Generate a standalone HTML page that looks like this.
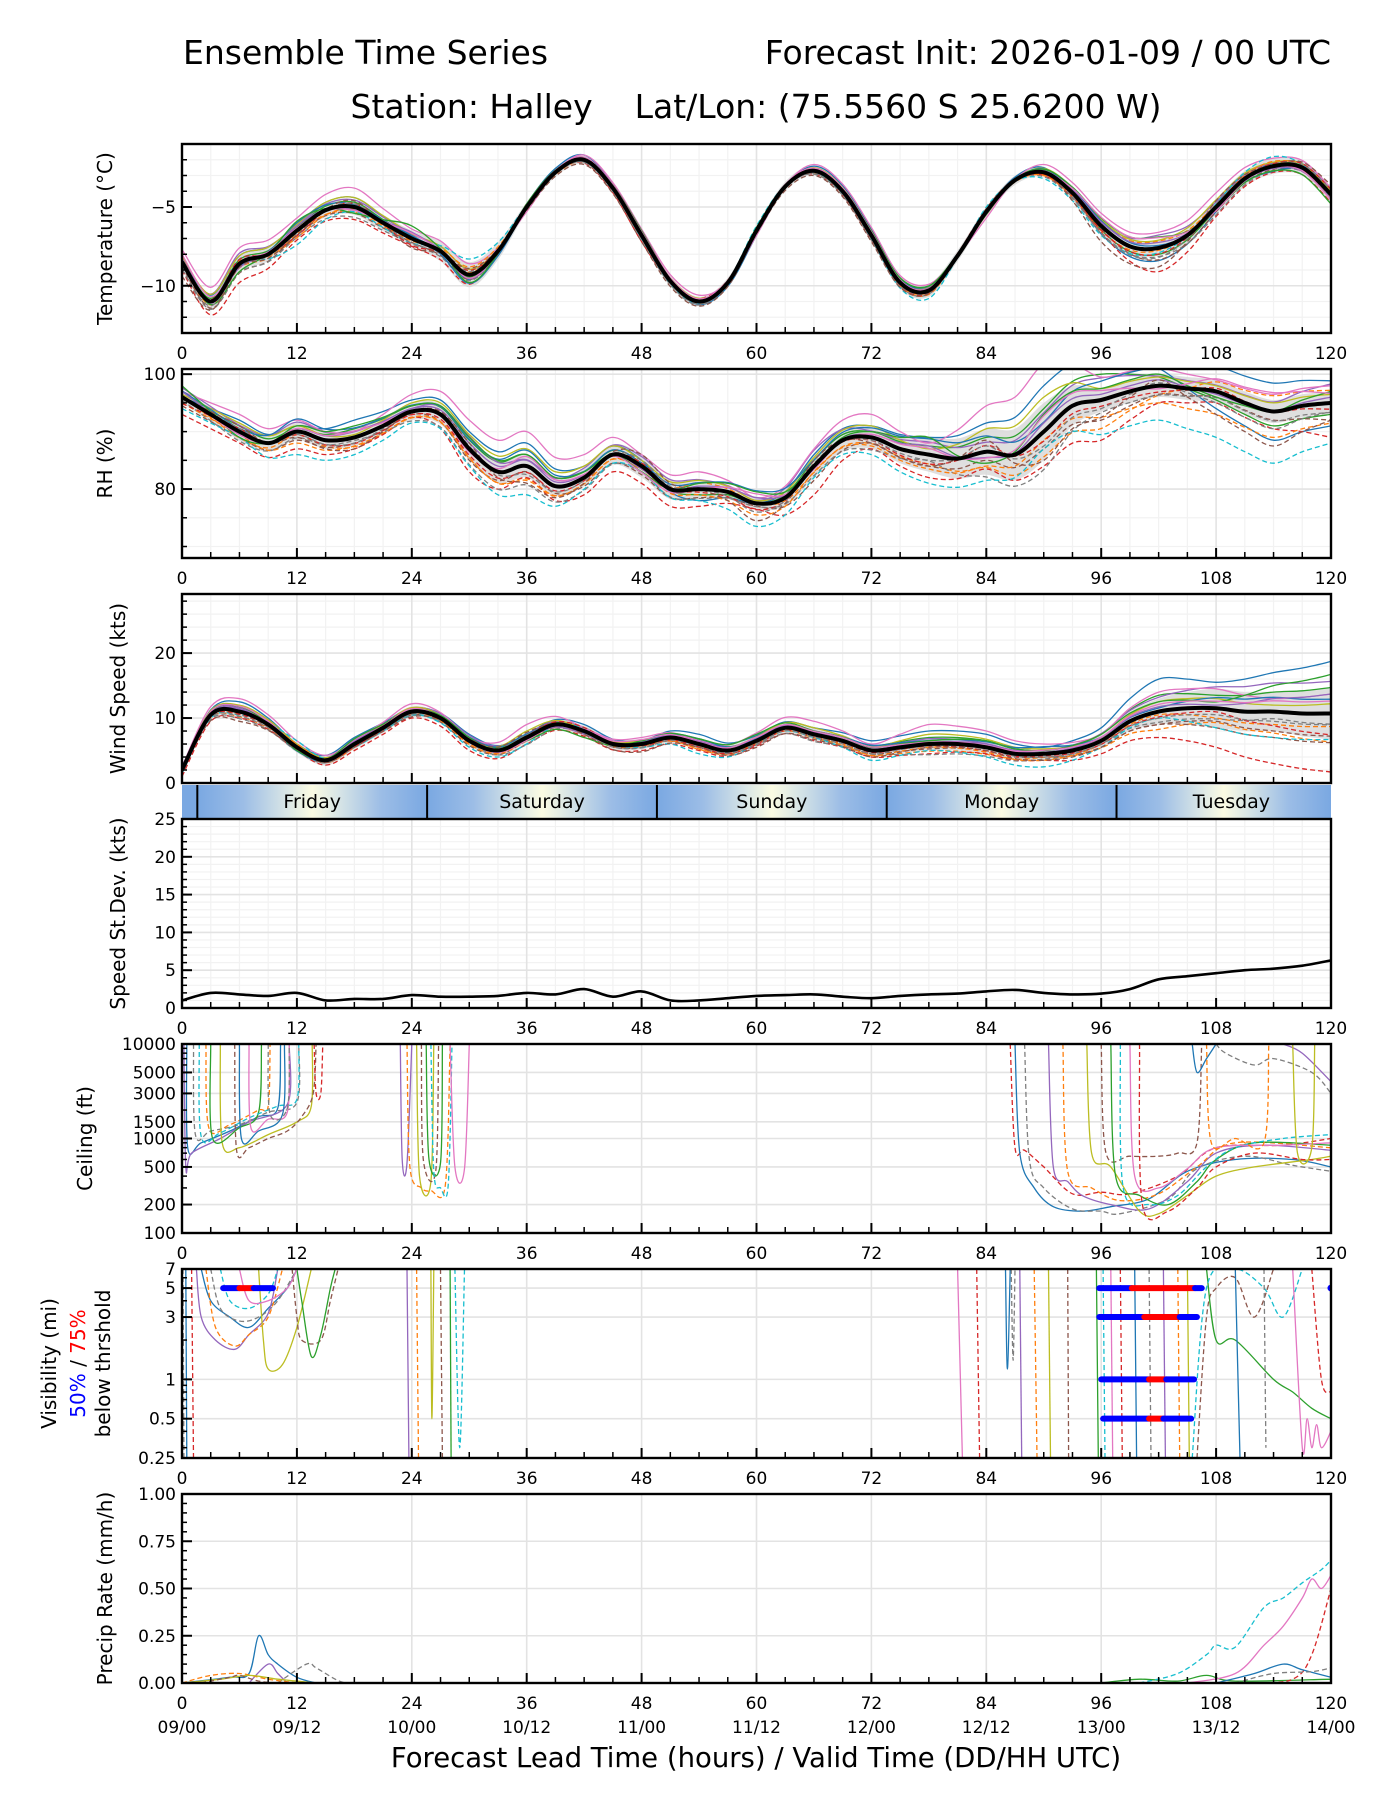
<!DOCTYPE html>
<html><head><meta charset="utf-8"><title>Ensemble Time Series - Halley</title>
<style>
html,body{margin:0;padding:0;background:#fff;}
svg{display:block;font-family:"DejaVu Sans","Liberation Sans",sans-serif;}
</style></head>
<body>
<svg id="chart" width="1400" height="1800" viewBox="0 0 1400 1800" xmlns="http://www.w3.org/2000/svg">
<defs>
<linearGradient id="daygrad" x1="0" x2="1" y1="0" y2="0">
<stop offset="0" stop-color="#7aa8e2"/><stop offset="0.2" stop-color="#9cbde6"/><stop offset="0.38" stop-color="#d6e4e6"/><stop offset="0.5" stop-color="#fbfbe2"/><stop offset="0.62" stop-color="#d6e4e6"/><stop offset="0.8" stop-color="#9cbde6"/><stop offset="1" stop-color="#7aa8e2"/>
</linearGradient>
</defs>
<text x="183" y="64" font-size="33" fill="#000">Ensemble Time Series</text>
<text x="1331" y="64" font-size="33" text-anchor="end" fill="#000">Forecast Init: 2026-01-09 / 00 UTC</text>
<text x="756" y="118" font-size="33" text-anchor="middle" fill="#000" xml:space="preserve">Station: Halley    Lat/Lon: (75.5560 S 25.6200 W)</text>
<text x="756" y="1767" font-size="27.5" text-anchor="middle" fill="#000">Forecast Lead Time (hours) / Valid Time (DD/HH UTC)</text>
<g id="plots"></g>
</svg>
<script>
// ---------- DATA ----------
const hours3 = [0,3,6,9,12,15,18,21,24,27,30,33,36,39,42,45,48,51,54,57,60,63,66,69,72,75,78,81,84,87,90,93,96,99,102,105,108,111,114,117,120];
const hours6 = [0,6,12,18,24,30,36,42,48,54,60,66,72,78,84,90,96,102,108,114,120];
const tempMean = [-8.5,-11.0,-8.6,-8.0,-6.5,-5.2,-5.0,-6.0,-7.0,-7.8,-9.3,-7.8,-5.0,-2.8,-2.0,-3.8,-6.8,-9.7,-11.0,-9.8,-6.5,-3.7,-2.7,-4.0,-6.8,-9.8,-10.3,-8.1,-5.3,-3.3,-2.8,-4.1,-6.2,-7.5,-7.6,-6.8,-5.0,-3.2,-2.4,-2.5,-4.2];
const rhMean = [96,93,90,88,90,88.5,89,91,93.5,93,87,83,84,80.5,82,86,84,80,80,79.5,77.5,78.5,84,88.5,89,87,86,85.3,86.5,86,90,94.5,95.5,97,98,97.5,97,95,93.5,94.5,95];
const windMean = [2,10.5,11,9,5.5,3.5,6,8.5,11,10,6.5,5,7,9,8,6,6,7,6,5,6.5,8.5,7.5,6.5,5,5.5,6,6,5.5,4.5,4.5,5,6.5,9.5,11,11.5,11.5,11,11,10.7,10.7];
const speedStd = [1.0,2.0,1.8,1.6,2.0,1.0,1.2,1.2,1.7,1.5,1.5,1.6,2.0,1.8,2.5,1.5,2.2,1.0,1.0,1.3,1.6,1.7,1.8,1.5,1.3,1.6,1.8,1.9,2.2,2.4,2.0,1.8,1.9,2.5,3.8,4.2,4.6,5.0,5.2,5.6,6.3];
const tempBand = [0.5,0.5,0.4,0.5,0.5,0.8,0.3,0.3,0.4,0.3,0.3,0.3,0.4,0.4,0.3,0.3,0.6,0.5,0.5,0.5,0.5];
const rhBand = [1,1.5,1.5,1.5,1.5,2,2,1.5,2,1.5,1,2,2,3,4,5,2,2,2,2,2];
const windBand = [0.5,1,0.8,0.8,0.8,0.8,0.8,0.8,0.8,0.8,0.8,1,0.8,1,1,1,1,2,3,3,4];
const tempDev1 = [0.3,0.5,0.4,0.6,0.2,-0.3,0.2,0.3,0.1,-0.2,-0.3,0.3,0.4,0.2,0.1,0.3,-0.5,-0.8,-0.3,0.2,0.3];
const tempDev2 = [-0.5,-1.2,-0.6,-0.8,-0.5,-0.6,0.2,-0.2,-0.4,0.2,0.1,-0.2,-0.3,0.1,0.2,-0.2,-0.4,-1.5,-0.6,-0.4,-0.5];
const tempDev3 = [0.8,1.0,0.8,1.2,0.6,0.7,-0.3,0.3,0.4,0.4,-0.3,0.4,0.5,0.4,-0.4,0.5,0.8,1.0,0.9,0.5,0.4];
const tempDev4 = [-0.2,0.3,-0.9,-0.3,-0.3,1.0,0.1,-0.1,-0.2,-0.1,0.3,-0.1,-0.2,-0.5,0.3,-0.4,-0.6,-0.3,0.2,0.6,-0.2];
const tempDev5 = [0.1,-0.5,0.6,-0.4,0.8,-0.5,0.2,0.1,0.3,0.0,0.2,0.0,0.3,0.3,-0.1,0.2,0.5,0.7,-0.2,-0.3,-0.6];
const tempDev6 = [-0.9,-0.2,-0.3,0.4,-0.6,0.4,-0.2,-0.3,-0.4,-0.3,-0.2,-0.3,-0.4,-0.2,0.2,0.0,-1.0,-1.2,0.4,0.1,0.6];
const rhDev1 = [0,2,1,3,2,3,4,2,1,-2,0,2,2,3,5,8,9,3,-3,-5,-4];
const rhDev2 = [-3,-2,-3,-2,-1,-4,-2,-3,-3,-3,-1,-5,-2,-4,-3,-6,-7,-3,-2,-3,-6];
const rhDev3 = [1,3,2,1,3,5,6,4,2,3,1,3,4,2,8,12,4,3,2,3,3];
const rhDev4 = [-2,-1,-4,-3,-2,-3,-5,-2,-1,-2,-4,-2,-3,-5,-5,-3,-6,-6,-8,-9,-7];
const rhDev5 = [2,-1,1,2,1,2,2,1,-1,1,2,0,1,3,-2,3,2,2,-1,0,2];
const rhDev6 = [0,1,-1,-2,0,1,-3,-1,2,0,-3,1,-1,-2,2,-5,-3,1,-4,-6,-3];
const windDev1 = [0,1.5,0.5,1,0.5,1,0.5,1,0.5,1.5,0.8,1,1.5,2,2,1,2,5,4,6,8];
const windDev2 = [-1,-1,-0.5,-1,-1,-1.5,-1,-0.8,-1,-1,-0.8,-1,-1,-1.5,-1,-1,-2,-4,-6,-8,-9];
const windDev3 = [0.5,2,1,0.5,1.2,0.5,2,0.5,1,0.5,1.2,2,1,3,2.5,1.5,1,3,3,2,3];
const windDev4 = [-0.5,-0.5,1,-0.5,-0.5,-1,-1,0.5,-0.5,-1.5,-0.5,-0.5,-1.5,-1,-1.5,-2,-1,-1,-3,-4,-4];
const windDev5 = [0.2,0.8,-0.5,0.8,0.3,0.5,-0.5,-1,0.5,0.8,1,0.5,0.5,0.5,1,0.5,1,1.5,1,4,6];
const windDev6 = [-0.3,-1.5,-0.3,-0.3,-0.8,0.3,0.8,-0.5,-1.2,-0.5,-1,-0.8,-1,-0.5,-0.5,-1,-1,-2,-2,-3,-3.5];
const ceilMembers = [
 [[0.5,10000],[0.6,800],[2,900],[5,1200],[8,1700],[10,2100],[10.3,10000]],
 [[1.2,10000],[1.4,1100],[3,1200],[6,1400],[9,1900],[12,2400],[12.2,10000]],
 [[0.2,10000],[0.4,500],[1,700],[4,1000],[7,1500],[11,2300],[11.2,10000]],
 [[2.5,10000],[2.8,1300],[5,1400],[8,2000],[9,2200],[9.2,10000]],
 [[4,10000],[4.2,900],[6,800],[9,1100],[12,1500],[13.5,2200],[13.6,10000]],
 [[5.5,10000],[5.7,750],[7,800],[9,1000],[11,1200],[12.5,1700],[13.7,3000],[14,10000]],
 [[3,10000],[3.2,1000],[6,1300],[8,1900],[8.3,10000]],
 [[1.8,10000],[2,1050],[4,1150],[7,1650],[10,2200],[12,2600],[12.2,10000]],
 [[7,10000],[7.2,1300],[9,1600],[11,1900],[11.2,10000]],
 [[13.8,10000],[14,3000],[14.5,3000],[14.7,10000]],
 [[6,10000],[6.2,1000],[8,1200],[10.5,1800],[10.7,10000]],
 [[9,10000],[9.2,1800],[11,2100],[11.2,10000]],
 [[22.8,10000],[23,600],[23.5,550],[24,10000]],
 [[23.5,10000],[23.8,500],[25,300],[26,280],[27.5,320],[28,10000]],
 [[24.5,10000],[24.8,400],[26,350],[26.3,10000]],
 [[25,10000],[25.2,600],[26.5,450],[26.8,10000]],
 [[25.5,10000],[25.8,600],[27,550],[27.2,10000]],
 [[26,10000],[26.3,450],[27,300],[27.8,320],[28.2,10000]],
 [[28,10000],[28.5,500],[29.5,480],[30,10000]],
 [[86.5,10000],[87,800],[88,750],[90,500],[93,260],[96,270],[99,260],[104,400],[108,800],[115,850],[120,1000]],
 [[87,10000],[87.5,700],[89,300],[91,190],[94,170],[97,190],[101,230],[105,450],[110,600],[116,600],[120,500]],
 [[88,10000],[88.5,600],[90,300],[93,180],[96,170],[98,160],[103,230],[106,480],[111,650],[116,520],[120,450]],
 [[90.5,10000],[91,500],[92.5,350],[94,250],[97,200],[101,180],[105,350],[108,700],[113,850],[120,750]],
 [[92,10000],[92.5,450],[95,300],[98,220],[102,260],[106,500],[110,900],[120,800]],
 [[94.5,10000],[95,700],[97,500],[100,170],[102,160],[105,250],[108,400],[112,500],[118,600],[120,650]],
 [[96,10000],[96.5,700],[99,650],[102,650],[104,700],[106,900],[106.5,10000]],
 [[97,10000],[97.5,400],[100,250],[103,200],[106,350],[108,600],[112,900],[120,850]],
 [[98,10000],[98.3,300],[101,200],[104,250],[107,500],[110,800],[115,1000],[120,1100]],
 [[99,10000],[99.5,400],[102,300],[105,480],[108,800],[115,850],[120,900]],
 [[100,10000],[100.3,200],[103,170],[106,300],[108,500],[112,700],[117,600],[120,600]],
 [[105.5,10000],[106,5000],[107,7000],[108,10000]],
 [[108,10000],[109,8000],[112,6000],[114,7000],[118,5000],[120,3000]],
 [[115,10000],[117,8000],[120,4000]],
 [[107,10000],[107.5,900],[110,1000],[113,900],[113.5,10000]],
 [[116,10000],[116.5,700],[118,800],[118.3,10000]]
];
const visMembers = [
 [[2,7],[3,4],[5,3],[7,2.5],[9,3.5],[11,5],[12,7]],
 [[3,7],[4,3.5],[6,2.8],[8,3],[10,4],[12,7]],
 [[1.5,7],[2,3],[3.5,2],[5.5,1.7],[7,2.2],[9,3.2],[10,7]],
 [[2.5,7],[3.5,2.5],[5.5,1.8],[7,2.2],[9,3],[10.5,7]],
 [[8,7],[8.5,2],[9,1.2],[10.5,1.3],[12,2.5],[13.5,7]],
 [[11.5,7],[12,3],[12.5,2],[14.5,2],[15.5,4],[16.3,7]],
 [[12,7],[12.5,4],[13.5,1.5],[14.5,2.2],[15.5,5],[16,7]],
 [[4,7],[5,4],[7,3.5],[9,4.5],[10,7]],
 [[6,7],[7,4],[9,4],[11,5],[12,7]],
 [[1,7],[1.2,0.25]],
 [[0.4,7],[0.5,0.25]],
 [[0.1,7],[0.2,0.25]],
 [[23.5,7],[23.7,0.25]],[[24.5,7],[24.7,0.25]],[[26,7],[26.1,0.5],[26.3,7]],
 [[27,7],[27.2,0.25]],[[28,7],[28.1,0.25]],[[28.5,7],[29,0.3],[29.5,7]],
 [[81,7],[81.5,0.25]],[[83,7],[83.3,0.25]],[[86,7],[86.2,1.2],[86.5,7]],[[86.6,7],[86.8,1.4],[87,7]],
 [[87.5,7],[87.7,0.25]],[[89,7],[89.3,0.25]],[[90.5,7],[90.7,0.25]],[[92.5,7],[92.6,0.25]],
 [[95.5,7],[95.7,0.25]],[[96.2,7],[96.4,0.25]],[[97,7],[97.2,0.25]],[[98,7],[98.2,0.25]],
 [[99.5,7],[99.7,0.25]],[[101,7],[101.2,0.25]],[[102.5,7],[102.7,0.25]],[[104,7],[104.2,0.25]],
 [[105,7],[105.2,0.25]],[[106,0.25],[107,3],[108,5],[110,6],[112,3],[114,7]],
 [[107,7],[108,2],[110,2],[114,1],[116,0.8],[118,0.6],[120,0.5]],
 [[105.5,0.25],[107,5],[110,7],[113,5],[115,3],[117,7]],
 [[116,7],[117,0.3],[117.5,0.5],[118,0.3],[118.5,0.45],[119,0.3],[120,0.4]],
 [[118,7],[119,1],[120,0.8]],[[110,7],[110.5,0.25]],[[113,7],[113.2,0.3]]
];
const visBarLevels = [5,5,5,5,5,5,3,3,3,1,1,1,0.5,0.5,0.5];
const visBarStart  = [4.3,6,7.5,95.8,99.2,105.8,95.8,100.5,104.2,96,101,102.8,96.2,101,102.5];
const visBarEnd    = [6,7.5,9.5,99.2,105.8,106.5,100.5,104.2,106,101,102.8,105.7,101,102.5,105.4];
const visBarColor  = ['blue','red','blue','blue','red','blue','blue','red','blue','blue','red','blue','blue','red','blue'];
const precipMembers = [
 [[0,0],[5,0.03],[7,0.05],[8,0.25],[9,0.15],[10,0.1],[12,0.03],[14,0]],
 [[10,0],[13,0.1],[14,0.08],[16,0.02],[17,0]],
 [[7,0],[9,0.1],[10,0.05],[11,0]],
 [[0,0],[3,0.04],[6,0.05],[9,0.02],[12,0]],
 [[0,0],[4,0.02],[7,0.04],[10,0.02],[14,0]],
 [[2,0],[5,0.03],[6,0.04],[8,0.01],[10,0]],
 [[96,0],[100,0.02],[104,0.01],[107,0.04],[110,0.01],[120,0.02]],
 [[100,0],[104,0.05],[107,0.15],[108,0.2],[110,0.19],[113,0.4],[115,0.45],[117,0.53],[119,0.6],[120,0.65]],
 [[105,0],[110,0.05],[113,0.2],[115,0.3],[117,0.45],[118,0.55],[119,0.5],[120,0.57]],
 [[112,0],[116,0.02],[118,0.15],[120,0.5]],
 [[108,0],[112,0.05],[115,0.1],[117,0.07],[120,0.03]],
 [[110,0],[114,0.05],[118,0.06],[120,0.08]]
];
const dayNames = ['Friday','Saturday','Sunday','Monday','Tuesday'];
const dayStarts = [1.6,25.6,49.6,73.6,97.6];
const xTickLabels = ['0','12','24','36','48','60','72','84','96','108','120'];
const dateLabels = ['09/00','09/12','10/00','10/12','11/00','11/12','12/00','12/12','13/00','13/12','14/00'];

// ---------- HELPERS ----------
const NS = 'http://www.w3.org/2000/svg';
const root = document.getElementById('plots');
const X0 = 182, X1 = 1331;
const colors = ['#1f77b4','#ff7f0e','#2ca02c','#d62728','#9467bd','#8c564b','#e377c2','#7f7f7f','#bcbd22','#17becf'];
function xs(h){ return X0 + h*(X1-X0)/120; }
function mk(tag, attrs, parent){ const e=document.createElementNS(NS,tag); for(const k in attrs) e.setAttribute(k,attrs[k]); parent.appendChild(e); return e; }
function linScale(top,bot,mn,mx){ return v => bot - (v-mn)/(mx-mn)*(bot-top); }
function logScale(top,bot,mn,mx){ return v => bot - (Math.log(v)-Math.log(mn))/(Math.log(mx)-Math.log(mn))*(bot-top); }
function smoothPath(pts){
  if(pts.length<2) return '';
  let d='M'+pts[0][0].toFixed(1)+','+pts[0][1].toFixed(1);
  for(let i=0;i<pts.length-1;i++){
    const p0=pts[Math.max(0,i-1)],p1=pts[i],p2=pts[i+1],p3=pts[Math.min(pts.length-1,i+2)];
    const c1x=p1[0]+(p2[0]-p0[0])/6,c1y=p1[1]+(p2[1]-p0[1])/6,c2x=p2[0]-(p3[0]-p1[0])/6,c2y=p2[1]-(p3[1]-p1[1])/6;
    d+=' C'+c1x.toFixed(1)+','+c1y.toFixed(1)+' '+c2x.toFixed(1)+','+c2y.toFixed(1)+' '+p2[0].toFixed(1)+','+p2[1].toFixed(1);
  }
  return d;
}
function interp(xsArr, ysArr, x){
  for(let i=0;i<xsArr.length-1;i++){ if(x<=xsArr[i+1]){ const t=(x-xsArr[i])/(xsArr[i+1]-xsArr[i]); return ysArr[i]+t*(ysArr[i+1]-ysArr[i]); } }
  return ysArr[ysArr.length-1];
}
function clampPts(pts, top, bot){ return pts.map(p=>[p[0],Math.max(top,Math.min(bot,p[1]))]); }

function axes(name, top, bot, ys, yticks, ylabels, minorY, minorGrid, showDates, showXLabels){
  const g = mk('g',{},root);
  
  
  if(minorGrid){
    minorY.forEach(v=>{ const l=mk('line',{x1:X0,x2:X1,y1:ys(v),y2:ys(v),stroke:'#f2f2f2','stroke-width':1.2},g);
      
       });
    for(let h=3;h<120;h+=3){ if(h%12===0) continue; const l=mk('line',{x1:xs(h),x2:xs(h),y1:top,y2:bot,stroke:'#f2f2f2','stroke-width':1.2},g);
      
       }
  }
  for(let h=12;h<120;h+=12){ const l=mk('line',{x1:xs(h),x2:xs(h),y1:top,y2:bot,stroke:'#e3e3e3','stroke-width':1.6},g);
    
     }
  yticks.forEach(v=>{ const l=mk('line',{x1:X0,x2:X1,y1:ys(v),y2:ys(v),stroke:'#e3e3e3','stroke-width':1.6},g);
    
     });
  const data = mk('g',{},root);
  
  
  const fg = mk('g',{},root);
  
  
  const cid='clip-'+name;
  const cp=mk('clipPath',{id:cid},fg);
  mk('rect',{x:X0,y:top,width:X1-X0,height:bot-top},cp);
  data.setAttribute('clip-path','url(#'+cid+')');
  const fr=mk('rect',{x:X0,y:top,width:X1-X0,height:bot-top,fill:'none',stroke:'#000','stroke-width':2.4},fg);
  
  
  for(let h=0;h<=120;h+=3){ const maj=h%12===0; const t=mk('line',{x1:xs(h),x2:xs(h),y1:bot,y2:bot-(maj?10:6),stroke:'#000','stroke-width':maj?2:1.5},fg);
    
     }
  if(showXLabels){ xTickLabels.forEach((s,i)=>{ const t=mk('text',{x:xs(i*12),y:bot+26,'text-anchor':'middle','font-size':17},fg); t.textContent=s;
    
     }); }
  if(showDates){ dateLabels.forEach((s,i)=>{ const t=mk('text',{x:xs(i*12),y:bot+50,'text-anchor':'middle','font-size':17},fg); t.textContent=s;
    
     }); }
  minorY.forEach(v=>{ const t=mk('line',{x1:X0,x2:X0+5,y1:ys(v),y2:ys(v),stroke:'#000','stroke-width':1.5},fg);
    
     });
  yticks.forEach((v,i)=>{ const t=mk('line',{x1:X0,x2:X0+10,y1:ys(v),y2:ys(v),stroke:'#000','stroke-width':2},fg);
    
    
    const tl=mk('text',{x:X0-6,y:ys(v)+6,'text-anchor':'end','font-size':17},fg); tl.textContent=ylabels[i];
    
     });
  return data;
}
function yTitle(name, lines, top, bot, xpos){
  const cy=(top+bot)/2;
  lines.forEach((ln,i)=>{
    const t=mk('text',{x:xpos[i],y:cy,'text-anchor':'middle','font-size':20,transform:'rotate(-90 '+xpos[i]+' '+cy+')'},root);
    ln.forEach(seg=>{ const s=mk('tspan',{fill:seg[1]},t); s.textContent=seg[0]; });
    
    
  });
}
function drawEnsemble(g, name, mean, band, devs, ys, top, bot){
  const up=[],lo=[];
  hours3.forEach((h,i)=>{ const b=interp(hours6,band,h); up.push([xs(h),ys(mean[i]+b)]); lo.push([xs(h),ys(mean[i]-b)]); });
  const bp=mk('path',{d:smoothPath(up)+' L'+lo[lo.length-1][0]+','+lo[lo.length-1][1]+smoothPath(lo.slice().reverse()).replace(/^M[^ ]+/,'')+' Z',fill:'#d9d9d9',opacity:0.85},g);
  
  
  devs.forEach((dv,k)=>{
    [1,-0.55,0.5].forEach((sgn,j)=>{
      const pts=hours3.map((h,i)=>[xs(h), ys(mean[i]+sgn*interp(hours6,dv,h))]);
      const ci=(k*3+j)%10;
      const p=mk('path',{d:smoothPath(clampPts(pts,top-5,bot+5)),fill:'none',stroke:colors[ci],'stroke-width':1.3,'stroke-dasharray':(k+j)%2?'5,3':'none'},g);
      
      
    });
  });
  const m=mk('path',{d:smoothPath(hours3.map((h,i)=>[xs(h),ys(mean[i])])),fill:'none',stroke:'#000','stroke-width':4,'stroke-linejoin':'round'},g);
  
  
}
function drawMembers(g, name, members, ys, top, bot){
  members.forEach((mem,k)=>{
    const pts=mem.map(p=>[xs(p[0]),ys(p[1])]);
    const p=mk('path',{d:smoothPath(clampPts(pts,top-3,bot+3)),fill:'none',stroke:colors[(k*7)%10],'stroke-width':1.3,'stroke-dasharray':k%2?'5,3':'none'},g);
    
    
  });
}
function range(a,b,s){ const r=[]; for(let v=a;v<=b+1e-9;v+=s) r.push(+v.toFixed(4)); return r; }

// ---------- TEMPERATURE ----------
{
  const top=144,bot=333, ys=linScale(top,bot,-13,-1);
  const g=axes('temperature',top,bot,ys,[-10,-5],['\u221210','\u22125'],range(-12,-2,1),true,false,true);
  drawEnsemble(g,'temperature',tempMean,tempBand,[tempDev1,tempDev2,tempDev3,tempDev4,tempDev5,tempDev6],ys,top,bot);
  yTitle('temperature',[[['Temperature (\u00b0C)','#000']]],top,bot,[112]);
}
// ---------- RH ----------
{
  const top=369,bot=558, ys=linScale(top,bot,68,100.9);
  const g=axes('rh',top,bot,ys,[80,100],['80','100'],range(70,95,5),true,false,true);
  drawEnsemble(g,'rh',rhMean,rhBand,[rhDev1,rhDev2,rhDev3,rhDev4,rhDev5,rhDev6],ys,top,bot);
  yTitle('rh',[[['RH (%)','#000']]],top,bot,[112]);
}
// ---------- WIND ----------
{
  const top=594,bot=783, ys=linScale(top,bot,0,29.1);
  const g=axes('wind-speed',top,bot,ys,[0,10,20],['0','10','20'],range(2,28,2),true,false,false);
  drawEnsemble(g,'wind-speed',windMean,windBand,[windDev1,windDev2,windDev3,windDev4,windDev5,windDev6],ys,top,bot);
  yTitle('wind-speed',[[['Wind Speed (kts)','#000']]],top,bot,[125]);
}
// ---------- DAY BAR ----------
{
  const top=785,bot=818;
  const g=mk('g',{},root);
  
  
  const r0=mk('rect',{x:X0,y:top,width:xs(dayStarts[0])-X0,height:bot-top,fill:'#7aa8e2'},g);
  
  
  dayNames.forEach((d,i)=>{
    const a=xs(dayStarts[i]), b=Math.min(X1, xs(dayStarts[i]+24));
    const r=mk('rect',{x:a,y:top,width:b-a,height:bot-top,fill:'url(#daygrad)'},g);
    
    
    const l=mk('line',{x1:a,x2:a,y1:top,y2:bot,stroke:'#000','stroke-width':2},g);
    
    
    const t=mk('text',{x:xs(dayStarts[i]+12),y:top+23,'text-anchor':'middle','font-size':19},g); t.textContent=d;
    
    
  });
}
// ---------- SPEED STDEV ----------
{
  const top=819,bot=1008, ys=linScale(top,bot,0,25);
  const g=axes('speed-stdev',top,bot,ys,[0,5,10,15,20,25],['0','5','10','15','20','25'],range(1,24,1),true,false,true);
  const m=mk('path',{d:smoothPath(hours3.map((h,i)=>[xs(h),ys(speedStd[i])])),fill:'none',stroke:'#000','stroke-width':2.6},g);
  
  
  yTitle('speed-stdev',[[['Speed St.Dev. (kts)','#000']]],top,bot,[125]);
}
// ---------- CEILING ----------
{
  const top=1044,bot=1233, ys=logScale(top,bot,100,10000);
  const g=axes('ceiling',top,bot,ys,[100,200,500,1000,1500,3000,5000,10000],['100','200','500','1000','1500','3000','5000','10000'],[300,400,600,700,800,900,2000,4000,6000,7000,8000,9000],false,false,true);
  drawMembers(g,'ceiling',ceilMembers,ys,top,bot);
  yTitle('ceiling',[[['Ceiling (ft)','#000']]],top,bot,[92]);
}
// ---------- VISIBILITY ----------
{
  const top=1269,bot=1458, ys=logScale(top,bot,0.25,7);
  const g=axes('visibility',top,bot,ys,[0.25,0.5,1,3,5,7],['0.25','0.5','1','3','5','7'],[0.3,0.4,0.6,0.7,0.8,0.9,2,4,6],false,false,true);
  drawMembers(g,'visibility',visMembers,ys,top,bot);
  visBarLevels.forEach((lv,i)=>{
    const l=mk('line',{x1:xs(visBarStart[i]),x2:xs(visBarEnd[i]),y1:ys(lv),y2:ys(lv),stroke:visBarColor[i],'stroke-width':6,'stroke-linecap':'round'},g);
    
    
  });
  const dot=mk('circle',{cx:xs(120),cy:ys(5),r:3.5,fill:'blue'},g);
  
  
  yTitle('visibility',[[['Visibility (mi)','#000']],[['50%','blue'],[' / ','#000'],['75%','red']],[['below thrshold','#000']]],top,bot,[56,85,110]);
}
// ---------- PRECIP ----------
{
  const top=1494,bot=1683, ys=linScale(top,bot,0,1);
  const g=axes('precip',top,bot,ys,[0,0.25,0.5,0.75,1],['0.00','0.25','0.50','0.75','1.00'],range(0.05,0.95,0.05),false,true,true);
  drawMembers(g,'precip',precipMembers,ys,top,bot);
  yTitle('precip',[[['Precip Rate (mm/h)','#000']]],top,bot,[112]);
}
</script>
</body></html>
